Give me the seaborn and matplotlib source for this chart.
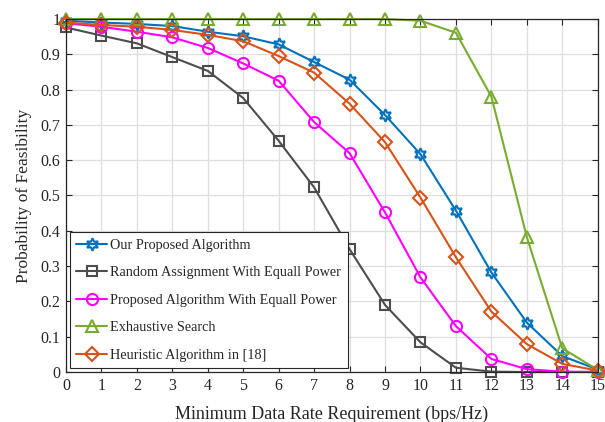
import numpy as np
import pandas as pd
import matplotlib
matplotlib.use("Agg")
import matplotlib.pyplot as plt
import seaborn as sns

# Values
rate = list(range(16))
proposed = [0.995, 0.99, 0.986, 0.98, 0.964, 0.951, 0.928, 0.878, 0.828, 0.728,
            0.617, 0.457, 0.282, 0.14, 0.045, 0.007]
random_eq = [0.976, 0.953, 0.931, 0.892, 0.853, 0.776, 0.655, 0.523, 0.348, 0.19,
             0.084, 0.012, 0.001, 0.0, 0.0, 0.0]
proposed_eq = [0.988, 0.978, 0.964, 0.948, 0.918, 0.874, 0.825, 0.708, 0.62, 0.452,
               0.268, 0.13, 0.037, 0.008, 0.001, 0.0]
exhaustive = [1.0, 1.0, 1.0, 1.0, 1.0, 1.0, 1.0, 1.0, 1.0, 1.0,
              0.995, 0.961, 0.78, 0.382, 0.067, 0.006]
heuristic = [0.99, 0.983, 0.978, 0.969, 0.955, 0.937, 0.895, 0.848, 0.76, 0.651,
             0.494, 0.325, 0.171, 0.079, 0.023, 0.004]

labels = ["Our Proposed Algorithm", "Random Assignment With Equall Power",
          "Proposed Algorithm With Equall Power", "Exhaustive Search",
          "Heuristic Algorithm in [18]"]
series = [proposed, random_eq, proposed_eq, exhaustive, heuristic]
colors = ["#0072BD", "#4D4D4D", "#FF00FF", "#77AC30", "#D95319"]
markers = [(6, 1, 0), "s", "o", "^", "D"]
msizes = [9, 6.8, 8, 8.5, 7]

sns.set_style("ticks")
plt.rcParams["font.family"] = ["Liberation Serif", "DejaVu Serif"]

fig = plt.figure(figsize=(6.05, 4.22), dpi=100)
ax = fig.add_axes([0.109, 0.1185, 0.879, 0.8365])

for y, lab, c, m, ms in zip(series, labels, colors, markers, msizes):
    sns.lineplot(x=rate, y=y, ax=ax, color=c, marker=m, markersize=ms,
                 markerfacecolor="none", markeredgecolor=c, markeredgewidth=1.5,
                 linewidth=1.5, label=lab, clip_on=False)

ax.set_xlim(0, 15)
ax.set_ylim(0, 1)
ax.set_xticks(rate)
yt = np.round(np.arange(0, 1.01, 0.1), 1)
ax.set_yticks(yt)
ax.set_yticklabels(["0"] + [f"{v:g}" for v in yt[1:-1]] + ["1"])
ax.grid(True, color="#DEDEDE", linewidth=0.9)
ax.set_axisbelow(True)
ax.tick_params(direction="in", top=True, right=True, labelsize=11.5, length=4,
               width=0.8, colors="#262626", pad=4)
for s in ax.spines.values():
    s.set_color("#262626")
    s.set_linewidth(0.9)
    s.set_visible(True)

ax.set_xlabel("Minimum Data Rate Requirement (bps/Hz)", fontsize=13, labelpad=9)
ax.set_ylabel("Probability of Feasibility", fontsize=12.5, labelpad=6)

leg = ax.legend(loc="lower left", fontsize=10.3, frameon=True, fancybox=False,
                edgecolor="#262626", framealpha=1, handlelength=2.2,
                borderaxespad=0.25, labelspacing=1.02, handletextpad=0.2,
                borderpad=0.45)
leg.get_frame().set_linewidth(0.8)

fig.savefig("out.png", dpi=100)
